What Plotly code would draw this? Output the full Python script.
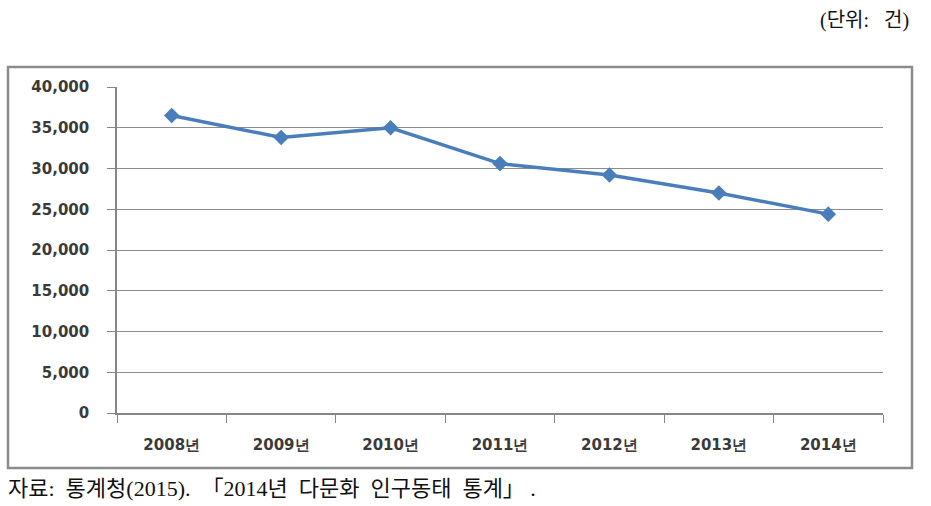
import plotly.graph_objects as go

years = ["2008년", "2009년", "2010년", "2011년", "2012년", "2013년", "2014년"]
counts = [36500, 33800, 35000, 30600, 29200, 27000, 24400]
y_ticks = [0, 5000, 10000, 15000, 20000, 25000, 30000, 35000, 40000]
y_tick_text = ["0", "5,000", "10,000", "15,000", "20,000", "25,000", "30,000", "35,000", "40,000"]

W, H = 931, 506
fig = go.Figure()
fig.add_trace(go.Scatter(
    x=years, y=counts, mode="lines+markers",
    line=dict(color="#4a7ebb", width=3.5),
    marker=dict(symbol="diamond", size=12, color="#4a7ebb"),
    showlegend=False, hoverinfo="x+y",
))

tick_font = dict(family="DejaVu Sans", size=15, color="#3a3a3a", weight="bold")
fig.update_layout(
    width=W, height=H,
    margin=dict(l=117, r=48, t=87, b=93),
    paper_bgcolor="white", plot_bgcolor="white",
    xaxis=dict(
        type="category", range=[-0.5, 6.5],
        showline=True, linecolor="#868686", linewidth=1.5,
        ticks="outside", tickson="boundaries", ticklen=8, tickcolor="#868686",
        showgrid=False, tickfont=tick_font, ticklabelstandoff=17,
    ),
    yaxis=dict(
        range=[0, 40000], tickvals=y_ticks, ticktext=y_tick_text,
        showline=True, linecolor="#868686", linewidth=1.5,
        ticks="outside", ticklen=8, tickcolor="#868686",
        showgrid=True, gridcolor="#8c8c8c", gridwidth=1,
        zeroline=False, tickfont=tick_font, ticklabelstandoff=15,
    ),
    shapes=[dict(
        type="rect", xref="paper", yref="paper",
        x0=(8 - 117) / (W - 117 - 48), x1=(912 - 117) / (W - 117 - 48),
        y0=(413 - 468) / (413 - 87), y1=(413 - 67) / (413 - 87),
        line=dict(color="#8c8c8c", width=2.5), fillcolor="rgba(0,0,0,0)",
    )],
    annotations=[
        dict(text="(단위:   건)", xref="paper", yref="paper",
             x=(911 - 117) / (W - 117 - 48), y=(413 - 20) / (413 - 87),
             xanchor="right", yanchor="middle", showarrow=False,
             font=dict(family="Liberation Serif, Noto Sans CJK KR", size=20, color="#111111")),
        dict(text="자료:  통계청(2015).  「2014년  다문화  인구동태  통계」 .", xref="paper", yref="paper",
             x=(6 - 117) / (W - 117 - 48), y=(413 - 488) / (413 - 87),
             xanchor="left", yanchor="middle", showarrow=False,
             font=dict(family="Liberation Serif, Noto Sans CJK KR", size=22, color="#111111")),
    ],
)
fig.write_html("out.html")
